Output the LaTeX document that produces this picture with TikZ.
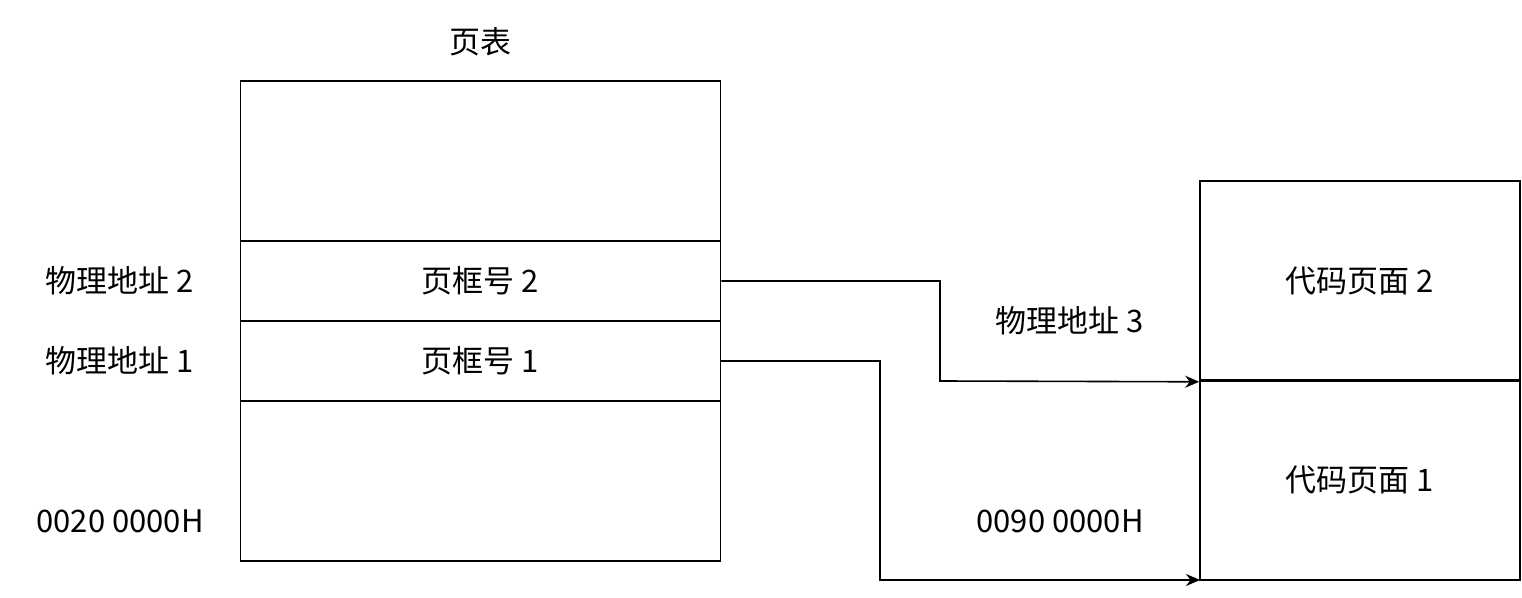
\documentclass[tikz,border=0pt]{standalone}
\usepackage{fontspec}
\setmainfont{Noto Sans CJK SC}
\usetikzlibrary{arrows.meta}
\begin{document}
\begin{tikzpicture}[x=0.5pt,y=-0.5pt,
  cell/.style={draw,line width=0.8pt,minimum width=240pt,inner sep=0pt,font=\fontsize{15.5}{18}\selectfont},
  rcell/.style={draw,line width=0.8pt,minimum width=160pt,inner sep=0pt,font=\fontsize{15.5}{18}\selectfont},
  lbl/.style={font=\fontsize{15.5}{18}\selectfont,inner sep=0pt},
  conn/.style={line width=0.8pt,-{Stealth[length=7pt,width=6pt]}}]
\useasboundingbox (0,0) rectangle (1522,598);
\node[cell,minimum height=80pt] (t0) at (480.5,161) {};
\node[cell,minimum height=40pt] (f2) at (480.5,281) {页框号 2};
\node[cell,minimum height=40pt] (f1) at (480.5,361) {页框号 1};
\node[cell,minimum height=80pt] (t3) at (480.5,481) {};
\node[rcell,minimum height=100pt] (c2) at (1360,281) {代码页面 2};
\node[rcell,minimum height=100pt] (c1) at (1360,480) {代码页面 1};
\coordinate (e1) at (1200,580);
\node[lbl] (title) at (480,42) {页表};
\node[lbl] (a2) at (120,281) {物理地址 2};
\node[lbl] (a1) at (120,361) {物理地址 1};
\node[lbl] (b1) at (120,521) {0020 0000H};
\node[lbl] (a3) at (1070,321) {物理地址 3};
\node[lbl] (b2) at (1060,521) {0090 0000H};
\draw[conn] (f2.east) -- (940,281) -- (940,381) -- (c2.south west);
\draw[conn] (f1.east) -- (880,361) -- (880,580) -- (e1);
\end{tikzpicture}
\end{document}
